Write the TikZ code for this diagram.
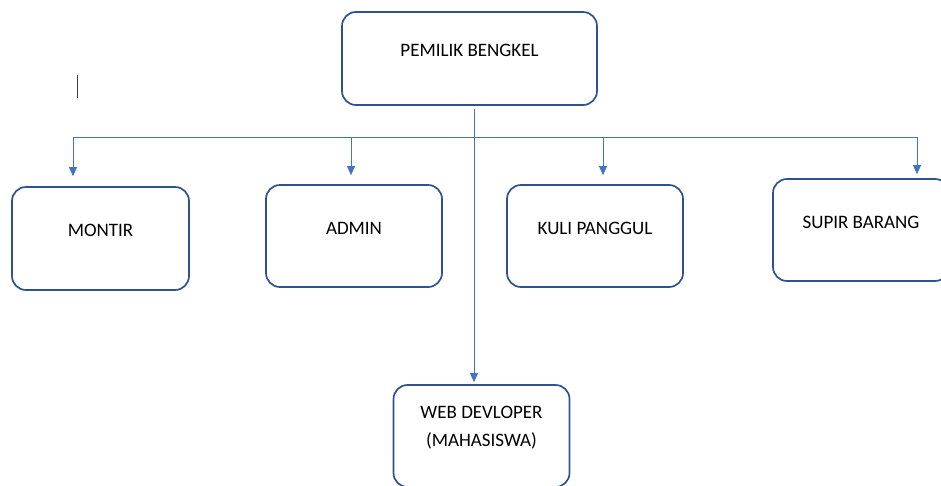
\documentclass[tikz,border=0pt]{standalone}
\usepackage{fontspec}
\setmainfont{Carlito}
\usepackage{xcolor}
\usepackage{tikz}
\usetikzlibrary{positioning,arrows.meta}

\definecolor{boxblue}{HTML}{2F528F}
\definecolor{lineblue}{HTML}{4472C4}

\begin{document}
\begin{tikzpicture}[x=1pt, y=-1pt,
		jabatan/.style={rectangle, rounded corners=14pt, draw=boxblue, line width=1.7pt, fill=white, minimum width=176pt, minimum height=102pt, text height=13pt, text depth=17pt, font=\fontsize{19}{28}\selectfont, align=center},
		garis/.style={draw=lineblue, line width=0.9pt},
		panah/.style={garis, -{Triangle[length=9pt, width=8pt]}},
		]
		\useasboundingbox (0,0) rectangle (941,485);

		%Pemilik
		\node[jabatan, minimum width=255pt, minimum height=93pt]	(pemilik)	at (469.5,58.5)	{PEMILIK BENGKEL};

		%Bawahan
		\node[jabatan, minimum width=177pt, minimum height=103pt]	(montir)	at (100.5,238.5)	{MONTIR};
		\node[jabatan]	(admin)		at (354,236)	{ADMIN};
		\node[jabatan]	(kuli)		at (595,236)	{KULI PANGGUL};
		\node[jabatan]	(supir)		at (861,230)	{SUPIR BARANG};
		\node[jabatan, text height=41pt, text depth=20pt]	(web)	at (481.5,436)	{WEB DEVLOPER\\(MAHASISWA)};

		%Cabang
		\coordinate (c_montir)	at (73,137);
		\coordinate (c_admin)	at (351,137);
		\coordinate (c_kuli)	at (603,137);
		\coordinate (c_supir)	at (917,137);
		\coordinate (c_web)		at (474,137);
		\draw[garis]	(c_montir) -- (c_supir);
		\draw[panah, shorten >=10pt]	(c_montir) -- (c_montir |- montir.north);
		\draw[panah, shorten >=9pt]		(c_admin) -- (c_admin |- admin.north);
		\draw[panah, shorten >=9pt]		(c_kuli) -- (c_kuli |- kuli.north);
		\draw[panah, shorten >=4pt]		(c_supir) -- (c_supir |- supir.north);
		\draw[panah, shorten <=3pt, shorten >=2pt]	(c_web |- pemilik.south) -- (c_web |- web.north);

		%Kursor
		\draw[black!75, line width=1pt] (77,75) -- (77,98);
	\end{tikzpicture}
\end{document}
